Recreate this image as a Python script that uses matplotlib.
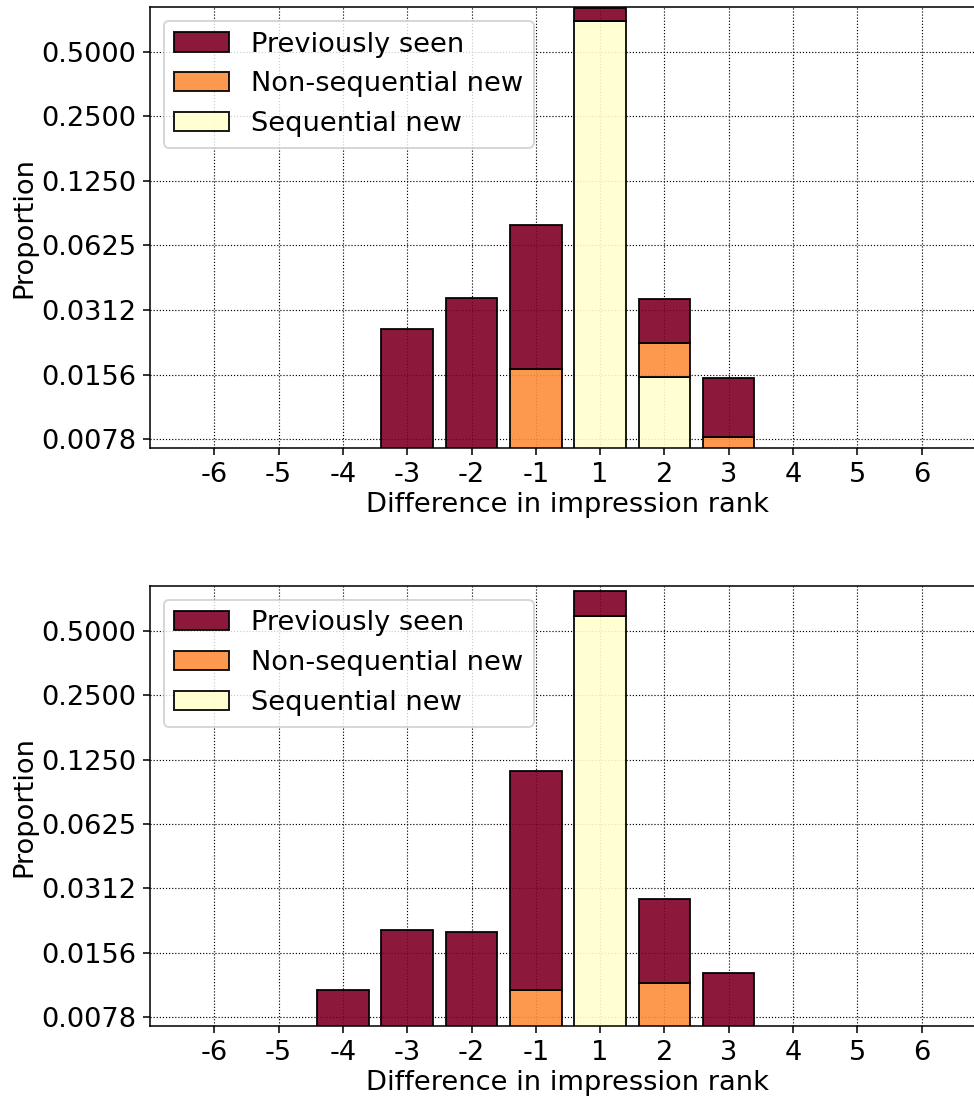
import numpy as np
import matplotlib.pyplot as plt

###############################################################################
# Data

ranks = [-6, -5, -4, -3, -2, -1, 1, 2, 3, 4, 5, 6]
series_labels = ["Previously seen", "Non-sequential new", "Sequential new"]
series_colors = ["#800026", "#fd8d3c", "#ffffcc"]
ytick_values = [2.0 ** -k for k in range(1, 8)]

# upper panel
upper_sequential = [0, 0, 0, 0, 0, 0, 0.700, 0.0152, 0, 0, 0, 0]
upper_nonsequential = [0, 0, 0, 0, 0, 0.0166, 0, 0.0068, 0.0080, 0, 0, 0]
upper_previous = [0, 0, 0, 0.0254, 0.0354, 0.0611, 0.100, 0.0132, 0.0070, 0, 0, 0]

# lower panel
lower_sequential = [0, 0, 0, 0, 0, 0, 0.588, 0, 0, 0, 0, 0]
lower_nonsequential = [0, 0, 0, 0, 0, 0.0104, 0, 0.0113, 0, 0, 0, 0]
lower_previous = [0, 0, 0.0105, 0.0200, 0.0195, 0.1000, 0.181, 0.0165, 0.0126, 0, 0, 0]

###############################################################################
# Plot

plt.rcParams['font.size'] = 14

DPI = 140
fig = plt.figure(figsize=(974 / DPI, 1099 / DPI), dpi=DPI)
# the original figure is cut off on the right, so the axes run past the edge
ax_top = fig.add_axes([0.154, 0.5923, 0.8583, 0.4013])
ax_bot = fig.add_axes([0.154, 0.0664, 0.8583, 0.4004])


def stacked_panel(ax, seq, nonseq, prev):
    x = np.arange(len(ranks))
    seq = np.array(seq)
    nonseq = np.array(nonseq)
    prev = np.array(prev)
    b_seq = ax.bar(x, seq, width=0.8, color=series_colors[2], edgecolor='k',
                   linewidth=1, alpha=0.9)
    b_non = ax.bar(x, nonseq, width=0.8, bottom=seq, color=series_colors[1],
                   edgecolor='k', linewidth=1, alpha=0.9)
    b_prev = ax.bar(x, prev, width=0.8, bottom=seq + nonseq,
                    color=series_colors[0], edgecolor='k', linewidth=1,
                    alpha=0.9)
    ax.set_yscale('log', base=2)
    ax.set_ylim(0.00709, 0.81)
    ax.set_xlim(-1, 12)
    ax.set_xticks(x)
    ax.set_xticklabels([str(r) for r in ranks])
    ax.set_yticks(ytick_values)
    ax.set_yticklabels(["%.4f" % v for v in ytick_values])
    ax.minorticks_off()
    ax.set_axisbelow(True)
    ax.grid(True, color='k', linestyle=':', linewidth=0.6)
    ax.set_xlabel("Difference in impression rank", labelpad=2)
    ax.set_ylabel("Proportion", labelpad=2)
    ax.legend([b_prev, b_non, b_seq], series_labels, loc='upper left')


stacked_panel(ax_top, upper_sequential, upper_nonsequential, upper_previous)
stacked_panel(ax_bot, lower_sequential, lower_nonsequential, lower_previous)

fig.savefig("out.png", dpi=DPI)
